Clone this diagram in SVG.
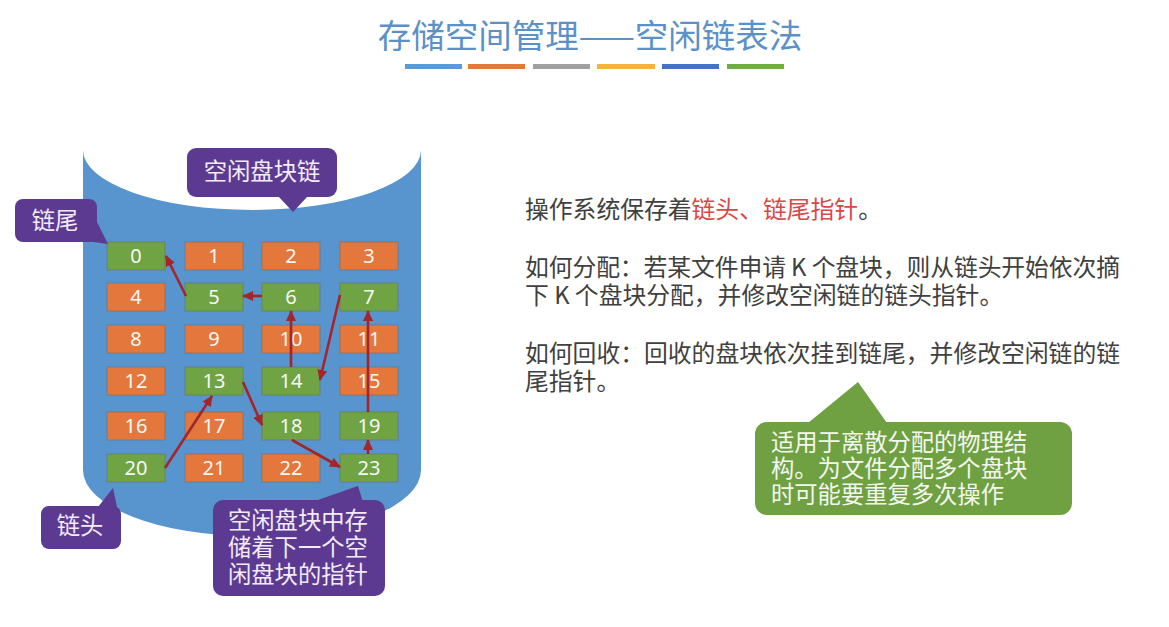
<svg xmlns="http://www.w3.org/2000/svg" width="1169" height="627" viewBox="0 0 1169 627">
<defs>
<style>
.cjk{font-family:"Noto Sans CJK SC","Noto Sans",sans-serif}
.blk rect{stroke:#6b6b6b;stroke-opacity:.55;stroke-width:1}
.o rect{fill:#E4773B}
.g rect{fill:#70A343}
.blk text{font-family:"Noto Sans","Liberation Sans",sans-serif;font-size:20px;fill:#F7F7F7;text-anchor:middle}
.pur{fill:#5D3A91}
.ptxt{fill:#F1ECF7;font-size:23.3px}
.arr{stroke:#A3262C;stroke-width:2.6;fill:none;marker-end:url(#ah)}
.rt{fill:#404040;font-size:23.8px}
</style>
<marker id="ah" markerUnits="userSpaceOnUse" markerWidth="12" markerHeight="10" refX="10" refY="5" orient="auto">
<path d="M0,0 L11,5 L0,10 Z" fill="#A3262C"/>
</marker>
</defs>
<rect width="1169" height="627" fill="#FFFFFF"/>

<g id="title">
<text x="590" y="48" class="cjk" font-size="33.5" fill="#5B91C9" text-anchor="middle">存储空间管理——空闲链表法</text>
<rect x="405" y="64" width="57" height="5" fill="#5B9BD5"/>
<rect x="468" y="64" width="57" height="5" fill="#E07A3E"/>
<rect x="533" y="64" width="57" height="5" fill="#A0A0A0"/>
<rect x="597" y="64" width="58" height="5" fill="#F2B53C"/>
<rect x="662" y="64" width="57" height="5" fill="#4472C4"/>
<rect x="727" y="64" width="57" height="5" fill="#70AD47"/>
</g>

<g id="disk">
<path d="M83,150 A169,60 0 0 0 421,150 L421,470 A169,66 0 0 1 83,470 Z" fill="#5894CD"/>
</g>

<g id="blocks">
<g id="b0" class="blk g"><rect x="107" y="242" width="58" height="28"/><text x="136" y="263">0</text></g>
<g id="b1" class="blk o"><rect x="185" y="242" width="58" height="28"/><text x="214" y="263">1</text></g>
<g id="b2" class="blk o"><rect x="262" y="242" width="58" height="28"/><text x="291" y="263">2</text></g>
<g id="b3" class="blk o"><rect x="340" y="242" width="58" height="28"/><text x="369" y="263">3</text></g>
<g id="b4" class="blk o"><rect x="107" y="283" width="58" height="28"/><text x="136" y="304">4</text></g>
<g id="b5" class="blk g"><rect x="185" y="283" width="58" height="28"/><text x="214" y="304">5</text></g>
<g id="b6" class="blk g"><rect x="262" y="283" width="58" height="28"/><text x="291" y="304">6</text></g>
<g id="b7" class="blk g"><rect x="340" y="283" width="58" height="28"/><text x="369" y="304">7</text></g>
<g id="b8" class="blk o"><rect x="107" y="325" width="58" height="28"/><text x="136" y="346">8</text></g>
<g id="b9" class="blk o"><rect x="185" y="325" width="58" height="28"/><text x="214" y="346">9</text></g>
<g id="b10" class="blk o"><rect x="262" y="325" width="58" height="28"/><text x="291" y="346">10</text></g>
<g id="b11" class="blk o"><rect x="340" y="325" width="58" height="28"/><text x="369" y="346">11</text></g>
<g id="b12" class="blk o"><rect x="107" y="367" width="58" height="28"/><text x="136" y="388">12</text></g>
<g id="b13" class="blk g"><rect x="185" y="367" width="58" height="28"/><text x="214" y="388">13</text></g>
<g id="b14" class="blk g"><rect x="262" y="367" width="58" height="28"/><text x="291" y="388">14</text></g>
<g id="b15" class="blk o"><rect x="340" y="367" width="58" height="28"/><text x="369" y="388">15</text></g>
<g id="b16" class="blk o"><rect x="107" y="412" width="58" height="28"/><text x="136" y="433">16</text></g>
<g id="b17" class="blk o"><rect x="185" y="412" width="58" height="28"/><text x="214" y="433">17</text></g>
<g id="b18" class="blk g"><rect x="262" y="412" width="58" height="28"/><text x="291" y="433">18</text></g>
<g id="b19" class="blk g"><rect x="340" y="412" width="58" height="28"/><text x="369" y="433">19</text></g>
<g id="b20" class="blk g"><rect x="107" y="454" width="58" height="28"/><text x="136" y="475">20</text></g>
<g id="b21" class="blk o"><rect x="185" y="454" width="58" height="28"/><text x="214" y="475">21</text></g>
<g id="b22" class="blk o"><rect x="262" y="454" width="58" height="28"/><text x="291" y="475">22</text></g>
<g id="b23" class="blk g"><rect x="340" y="454" width="58" height="28"/><text x="369" y="475">23</text></g>
</g>

<g id="connectors">
<line class="arr" x1="165" y1="468" x2="212" y2="396"/>
<line class="arr" x1="243" y1="382" x2="262" y2="425"/>
<line class="arr" x1="292" y1="440" x2="340" y2="467"/>
<line class="arr" x1="368" y1="454" x2="368" y2="440"/>
<line class="arr" x1="368" y1="412" x2="368" y2="311"/>
<line class="arr" x1="340" y1="295" x2="320" y2="380"/>
<line class="arr" x1="291" y1="367" x2="291" y2="311"/>
<line class="arr" x1="262" y1="296" x2="243" y2="296"/>
<line class="arr" x1="186" y1="296" x2="166" y2="256"/>
</g>

<g id="callout-chain">
<rect class="pur" x="187" y="148" width="150" height="49" rx="9"/>
<polygon class="pur" points="278,196 308,196 293,212"/>
<text x="262" y="180" class="cjk ptxt" text-anchor="middle">空闲盘块链</text>
</g>

<g id="callout-tail">
<rect class="pur" x="15" y="199" width="82" height="43" rx="8"/>
<polygon class="pur" points="86,241 97,222 108,244"/>
<text x="55" y="229" class="cjk ptxt" text-anchor="middle">链尾</text>
</g>

<g id="callout-head">
<rect class="pur" x="41" y="506" width="80" height="43" rx="8"/>
<polygon class="pur" points="98,507 113,488 117,507"/>
<text x="80" y="534" class="cjk ptxt" text-anchor="middle">链头</text>
</g>

<g id="callout-pointer">
<rect class="pur" x="213" y="500" width="172" height="96" rx="10"/>
<polygon class="pur" points="312,502 358,486 363,502"/>
<text class="cjk ptxt" x="228" y="529">空闲盘块中存</text>
<text class="cjk ptxt" x="228" y="556">储着下一个空</text>
<text class="cjk ptxt" x="228" y="583">闲盘块的指针</text>
</g>

<g id="description">
<text class="cjk rt" x="525" y="218">操作系统保存着<tspan fill="#D84848">链头、链尾指针</tspan>。</text>
<text class="cjk rt" x="525" y="276" textLength="595" lengthAdjust="spacing">如何分配：若某文件申请 K 个盘块，则从链头开始依次摘</text>
<text class="cjk rt" x="525" y="304">下 K 个盘块分配，并修改空闲链的链头指针。</text>
<text class="cjk rt" x="525" y="362" textLength="595" lengthAdjust="spacing">如何回收：回收的盘块依次挂到链尾，并修改空闲链的链</text>
<text class="cjk rt" x="525" y="390">尾指针。</text>
</g>

<g id="callout-note">
<rect x="755" y="422" width="317" height="93" rx="12" fill="#6FA142"/>
<polygon points="808,423 858,382 887,423" fill="#6FA142"/>
<text class="cjk" x="771" y="451" font-size="23.3" fill="#F4F7EF">适用于离散分配的物理结</text>
<text class="cjk" x="771" y="477" font-size="23.3" fill="#F4F7EF">构。为文件分配多个盘块</text>
<text class="cjk" x="771" y="503" font-size="23.3" fill="#F4F7EF">时可能要重复多次操作</text>
</g>
</svg>
